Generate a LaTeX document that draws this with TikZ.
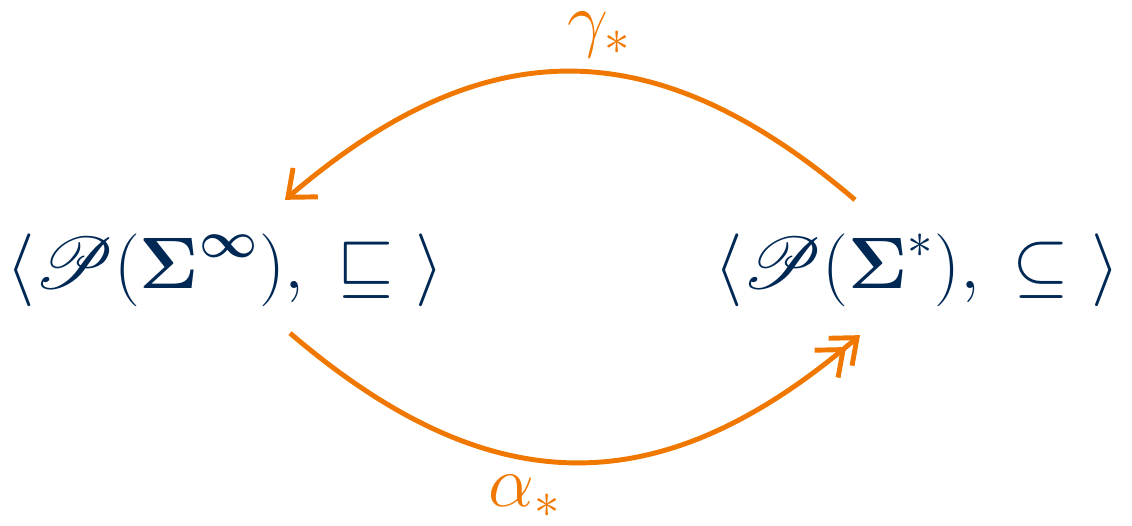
\documentclass[tikz,border=0pt]{standalone}
\usepackage{amsmath}
\usepackage{amssymb}
\usepackage{mathrsfs}
\usepackage{xcolor}
\usepackage{tikz}
\usetikzlibrary{arrows.meta}

\definecolor{latnavy}{RGB}{0,40,85}
\definecolor{maporange}{RGB}{240,120,0}

\begin{document}
\begin{tikzpicture}
	[lattice/.style={text=latnavy, inner sep=0pt, font=\fontsize{20.5}{25}\selectfont},
	maplabel/.style={text=maporange, inner sep=0pt, font=\fontsize{20}{24}\selectfont},
	galois/.style={draw=maporange, line width=1.4pt},
	barb/.style={-{Straight Barb[length=2.3mm,width=3.8mm]}},
	dbarb/.style={-{Straight Barb[length=2.2mm,width=3.6mm,sep=-1mm] Straight Barb[length=2.2mm,width=3.6mm]}}]

	\useasboundingbox (0,0) rectangle (11.32,5.26);

	\node[lattice] (L) at (2.25,2.56)
		{$\langle\mathscr{P}(\boldsymbol{\Sigma}^{\boldsymbol{\infty}}),\;\sqsubseteq\ \rangle$};
	\node[lattice] (R) at (9.17,2.56)
		{$\langle\mathscr{P}(\boldsymbol{\Sigma}^{*}),\;\subseteq\ \rangle$};
	\node[maplabel] (gamma) at (6.0,4.91) {$\gamma_*$};
	\node[maplabel] (alpha) at (5.25,0.3) {$\alpha_*$};

	\draw[galois, barb]
		([xshift=-6.2mm,yshift=3.3mm]R.north) .. controls +(-2,1.71) and +(2,1.71) ..
		([xshift=6mm,yshift=3.3mm]L.north);
	\draw[galois, dbarb]
		([xshift=6.5mm,yshift=-2.6mm]L.south) .. controls +(2,-1.71) and +(-2,-1.71) ..
		([xshift=-5.7mm,yshift=-2.8mm]R.south);

\end{tikzpicture}
\end{document}
